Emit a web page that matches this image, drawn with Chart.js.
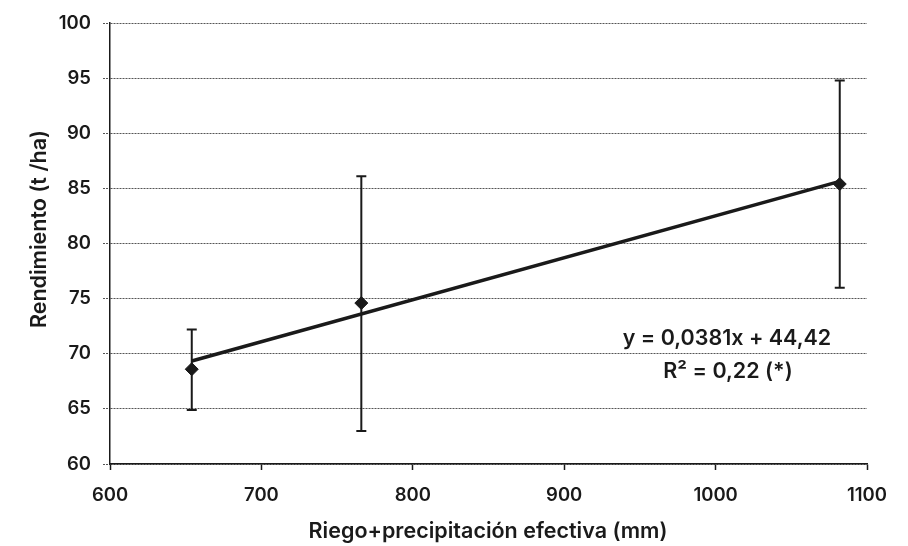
<!DOCTYPE html>
<html><head><meta charset="utf-8">
<script src="https://cdn.jsdelivr.net/npm/chart.js@4/dist/chart.umd.min.js"></script>
<style>html,body{margin:0;padding:0;background:#fff}#wrap{width:908px;height:546px}</style>
</head><body><div id="wrap"><canvas id="c" width="908" height="546"></canvas></div>
<script>
const riego = [654, 766, 1082];
const rendimiento = [68.6, 74.6, 85.4];
const errLow = [64.9, 63.0, 76.0];
const errHigh = [72.2, 86.1, 94.8];
const trendX = [654, 1082];
const trendY = [69.34, 85.64];
const xTicks = [600, 700, 800, 900, 1000, 1100];
const yTicks = [60, 65, 70, 75, 80, 85, 90, 95, 100];
const xTitle = 'Riego+precipitación efectiva (mm)';
const yTitle = 'Rendimiento (t /ha)';
const eqLine1 = 'y = 0,0381x + 44,42';
const eqLine2 = 'R² = 0,22 (*)';

const FONT = 'Inter, "Open Sans", "DejaVu Sans", sans-serif';

const overlay = {
  id: 'overlay',
  afterDatasetsDraw(chart) {
    const ctx = chart.ctx, xs = chart.scales.x, ys = chart.scales.y;
    ctx.save();
    ctx.strokeStyle = '#1a1a1a';
    ctx.lineWidth = 2;
    for (let i = 0; i < riego.length; i++) {
      const px = xs.getPixelForValue(riego[i]);
      const y1 = ys.getPixelForValue(errLow[i]);
      const y2 = ys.getPixelForValue(errHigh[i]);
      ctx.beginPath();
      ctx.moveTo(px, y1); ctx.lineTo(px, y2);
      ctx.moveTo(px - 5, y1); ctx.lineTo(px + 5, y1);
      ctx.moveTo(px - 5, y2); ctx.lineTo(px + 5, y2);
      ctx.stroke();
    }
    ctx.restore();
  },
  afterDraw(chart) {
    const ctx = chart.ctx, a = chart.chartArea;
    ctx.save();
    ctx.fillStyle = '#1a1a1a';
    ctx.textAlign = 'center';
    ctx.textBaseline = 'middle';
    ctx.font = '600 21.5px ' + FONT;
    ctx.fillText(xTitle, 488, 532);
    ctx.fillText(eqLine1, 727, 339);
    ctx.fillText(eqLine2, 728, 372);
    ctx.translate(40, 229);
    ctx.rotate(-Math.PI / 2);
    ctx.fillText(yTitle, 0, 0);
    ctx.restore();
  }
};

new Chart(document.getElementById('c'), {
  type: 'scatter',
  data: {
    datasets: [
      {
        label: 'trend',
        data: trendX.map((x, i) => ({x, y: trendY[i]})),
        showLine: true,
        borderColor: '#1a1a1a',
        borderWidth: 3.5,
        pointRadius: 0,
        order: 2
      },
      {
        label: 'rendimiento',
        data: riego.map((x, i) => ({x, y: rendimiento[i]})),
        pointStyle: 'rectRot',
        pointRadius: 6.5,
        backgroundColor: '#1a1a1a',
        borderColor: '#1a1a1a',
        order: 1
      }
    ]
  },
  options: {
    responsive: false,
    animation: false,
    layout: { padding: { left: 0, top: 19, right: 41, bottom: 0 } },
    plugins: { legend: { display: false }, tooltip: { enabled: false } },
    scales: {
      x: {
        type: 'linear', min: 600, max: 1100,
        afterBuildTicks: s => { s.ticks = xTicks.map(v => ({value: v})); },
        afterFit: s => { s.height = 82; },
        grid: { drawOnChartArea: false, drawTicks: true, tickLength: 6, tickColor: '#1a1a1a', tickWidth: 1.5 },
        border: { display: true, color: '#1a1a1a', width: 1.5 },
        ticks: { color: '#1a1a1a', padding: 14, callback: v => String(v), font: { family: FONT, size: 18.5, weight: '600' } }
      },
      y: {
        type: 'linear', min: 60, max: 100,
        afterBuildTicks: s => { s.ticks = yTicks.map(v => ({value: v})); },
        afterFit: s => { s.width = 110; },
        grid: { drawOnChartArea: true, drawTicks: true, tickLength: 7, color: '#555', lineWidth: 1, tickColor: '#555', tickBorderDash: [2, 1] },
        border: { display: true, color: '#1a1a1a', width: 1.5, dash: [2, 1] },
        ticks: { color: '#1a1a1a', padding: 12, callback: v => String(v), font: { family: FONT, size: 18.5, weight: '600' } }
      }
    }
  },
  plugins: [overlay]
});
</script>
</body></html>
